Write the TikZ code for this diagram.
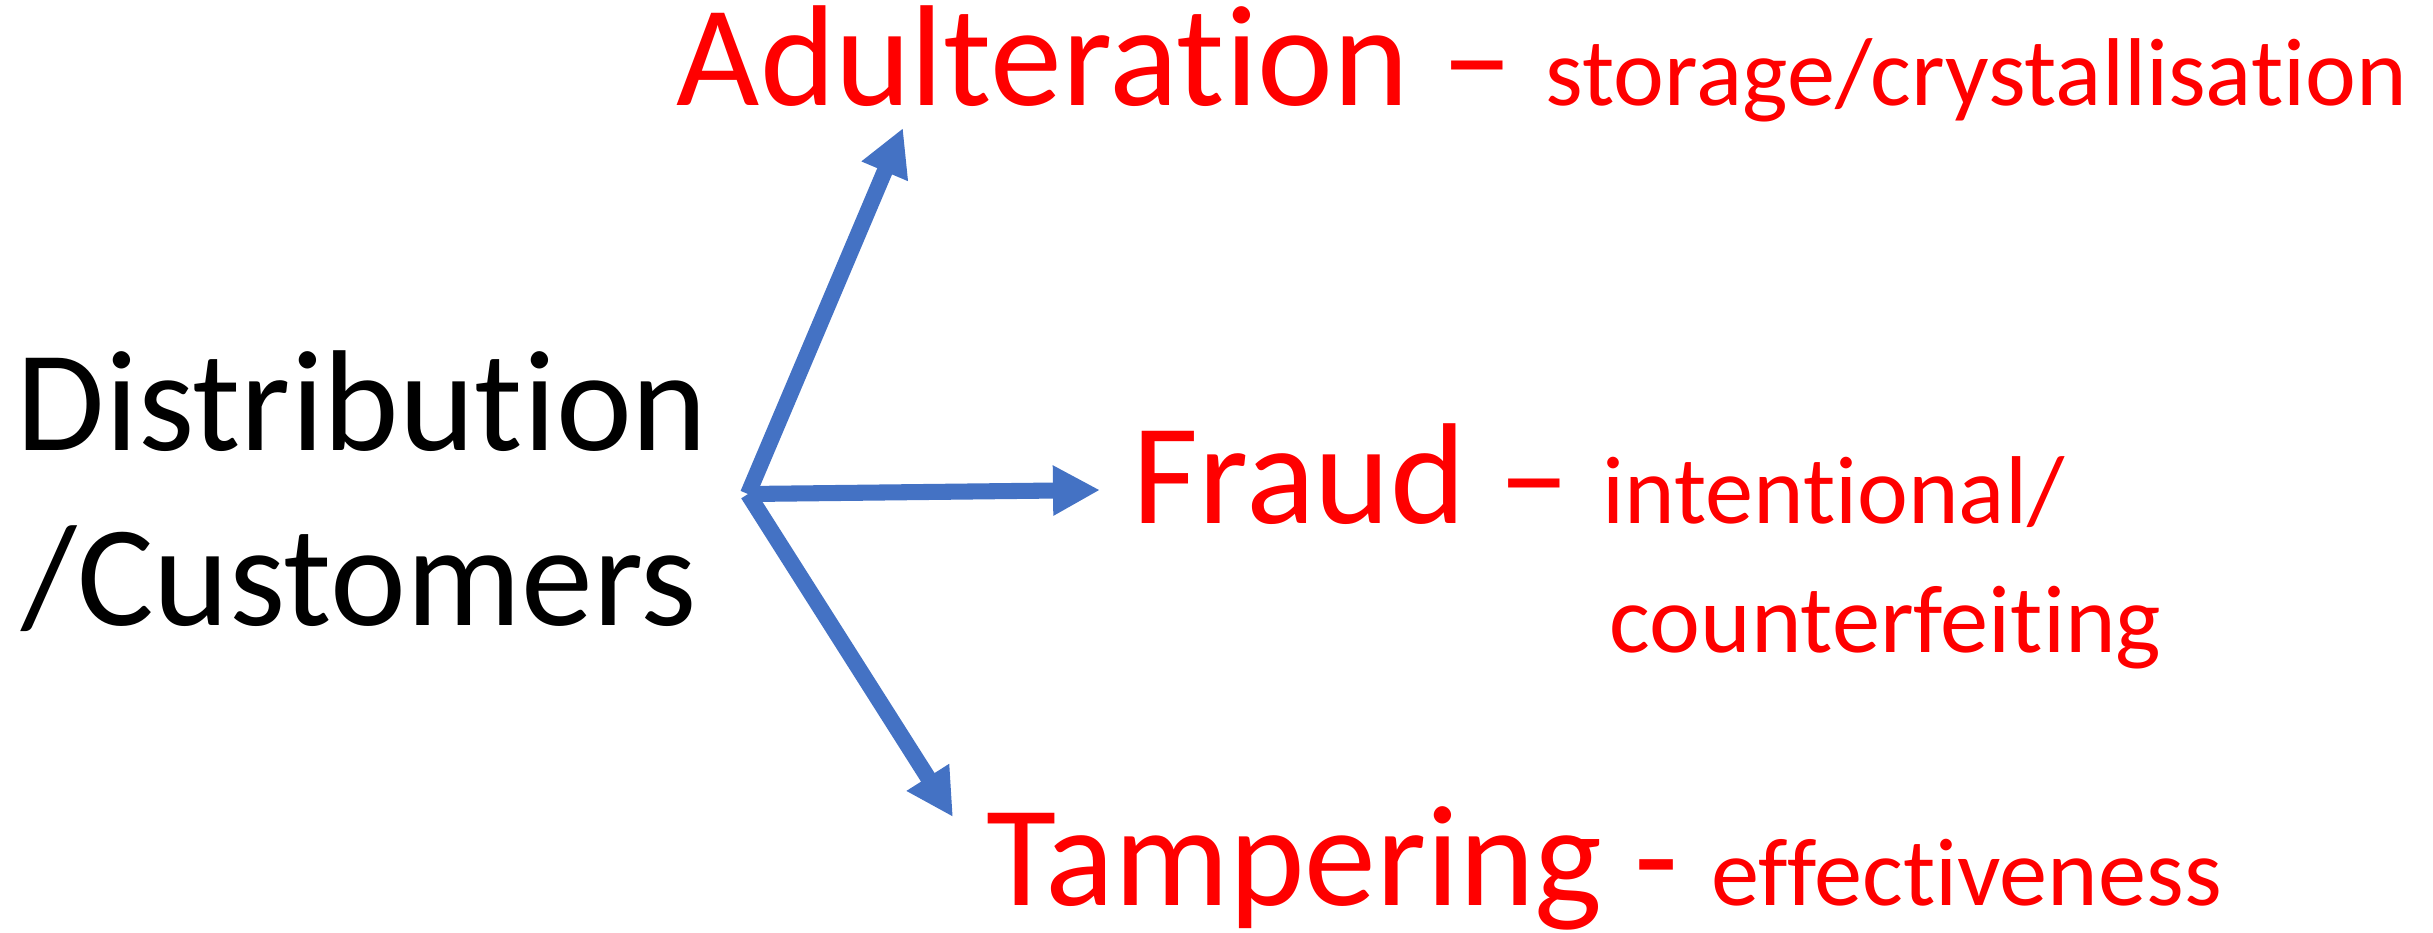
\documentclass[tikz,border=0pt]{standalone}
\usepackage{fontspec}
\setmainfont{Carlito}[Ligatures=NoCommon]
\usetikzlibrary{arrows.meta}

\definecolor{arrowblue}{HTML}{4472C4}
\definecolor{threatred}{HTML}{FF0000}
\newcommand{\smalltxt}[1]{{\fontsize{24.6}{29}\selectfont #1}}

\tikzset{
  bigtext/.style={inner sep=0pt, anchor=base west, font=\fontsize{36.7}{44}\selectfont},
  threat/.style={bigtext, text=threatred},
  threatarrow/.style={draw=arrowblue, line width=4.1pt, -{Triangle[width=12pt,length=12pt]}},
}

\begin{document}
\begin{tikzpicture}[x=0.2553pt,y=-0.2553pt]
			\useasboundingbox (0,0) rectangle (2433,932);

			\node[bigtext] (dist) at (16,450) {Distribution};
			\node[bigtext] (cust) at (21,625) {/Customers};

			\node[threat] (adult) at (676,105) {Adulteration – \smalltxt{storage/crystallisation}};
			\node[threat] (fraud) at (1132,523) {Fraud – \smalltxt{intentional/}};
			\node[threat, font=\fontsize{24.6}{29}\selectfont] (counter) at (1609,652) {counterfeiting};
			\node[threat] (tamper) at (986,905) {Tampering - \smalltxt{effectiveness}};

			\coordinate (hub) at (748,494);
			\coordinate (adulttip) at (903,128);
			\coordinate (fraudtip) at (1100,490);
			\coordinate (tampertip) at (953,817);

			\draw[threatarrow] (hub) -- (adulttip);
			\draw[threatarrow] (hub) -- (fraudtip);
			\draw[threatarrow] (hub) -- (tampertip);
\end{tikzpicture}
\end{document}
